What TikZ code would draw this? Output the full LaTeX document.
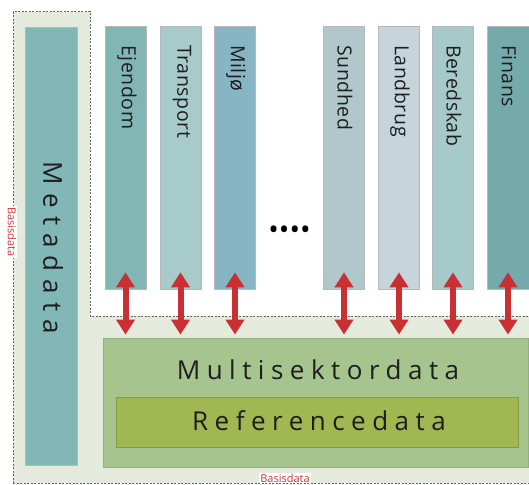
\documentclass[tikz,border=0pt]{standalone}
\usepackage{fontspec}
\setmainfont{Open Sans}
\newfontfamily\secfont[LetterSpace=3]{Open Sans}
\newfontfamily\widefont[LetterSpace=25]{Open Sans}
\newfontfamily\metafont[LetterSpace=31]{Open Sans}
\usetikzlibrary{arrows.meta}
\definecolor{basis}{HTML}{E4EBDD}
\definecolor{dotline}{HTML}{666666}
\definecolor{lblred}{HTML}{D0343A}
\definecolor{arrred}{HTML}{C93034}
\definecolor{cmeta}{HTML}{82B7B7}
\definecolor{cejendom}{HTML}{82B6B4}
\definecolor{ctransport}{HTML}{A7CBCB}
\definecolor{cmiljo}{HTML}{88B5C3}
\definecolor{csundhed}{HTML}{B0C8CB}
\definecolor{clandbrug}{HTML}{C5D5DB}
\definecolor{cberedskab}{HTML}{A6CACA}
\definecolor{cfinans}{HTML}{75AAAD}
\definecolor{cmulti}{HTML}{A6C48E}
\definecolor{cmultiedge}{HTML}{93B07C}
\definecolor{cref}{HTML}{A0B752}
\definecolor{crefedge}{HTML}{869C3E}
\definecolor{txt}{HTML}{1E1E1E}
\begin{document}
\begin{tikzpicture}[x=1pt,y=-1pt,
  bar/.style={draw=black!28, line width=0.6pt, inner sep=0pt, minimum width=41pt, minimum height=263pt},
  seclabel/.style={rotate=-90, anchor=west, inner sep=0pt, text=txt, font=\secfont\fontsize{19.5}{21}\selectfont},
  biarrow/.style={draw=arrred, line width=6pt, {Triangle[width=18pt,length=15pt]}-{Triangle[width=18pt,length=15pt]}},
  dotted border/.style={draw=dotline, line width=1pt, dash pattern=on 2pt off 1.5pt},
  basislabel/.style={text=lblred, fill=white, inner sep=1pt, font=\fontsize{11}{12}\selectfont}
]
\useasboundingbox (0,0) rectangle (529,484);
\clip (0,0) rectangle (529,484);
% Basisdata region
\fill[basis] (13,12) -- (90,12) -- (90,316) -- (535,316) -- (535,483) -- (13,483) -- cycle;
\draw[dotted border] (13,483) -- (13,12) -- (90,12) -- (90,316) -- (535,316);
\draw[dotted border] (13,483) -- (535,483);
\node[basislabel, rotate=-90] (bl1) at (12,232) {Basisdata};
\node[basislabel] (bl2) at (285,478) {Basisdata};
% Metadata
\node[bar, fill=cmeta, minimum width=52pt, minimum height=438pt] (meta) at (51,246) {};
\node[rotate=-90, inner sep=0pt, text=txt, font=\metafont\fontsize{26}{28}\selectfont] (metat) at (53,248) {Metadata};
% sector bars
\node[bar, fill=cejendom]   (ej) at (125.5,157.5) {};
\node[bar, fill=ctransport] (tr) at (180.5,157.5) {};
\node[bar, fill=cmiljo]     (mi) at (235,157.5) {};
\node[bar, fill=csundhed]   (su) at (344,157.5) {};
\node[bar, fill=clandbrug]  (la) at (399,157.5) {};
\node[bar, fill=cberedskab] (be) at (453,157.5) {};
\node[bar, fill=cfinans, minimum width=42pt] (fi) at (508,157.5) {};
\node[seclabel] (ejt) at (127,45) {Ejendom};
\node[seclabel] (trt) at (182,45) {Transport};
\node[seclabel] (mit) at (236,45) {Miljø};
\node[seclabel] (sut) at (345,45) {Sundhed};
\node[seclabel] (lat) at (400,45) {Landbrug};
\node[seclabel] (bet) at (454,45) {Beredskab};
\node[seclabel] (fit) at (509,45) {Finans};
% dots
\node[inner sep=0pt, text=black, font=\fontsize{28}{30}\selectfont] (dots) at (289.5,233) {••••};
% Multisektordata and Referencedata
\node[draw=cmultiedge, line width=0.8pt, fill=cmulti, minimum width=425pt, minimum height=129pt, inner sep=0pt] (ms) at (315.5,402.5) {};
\node[inner sep=0pt, text=txt, font=\widefont\fontsize{26}{28}\selectfont] (mst) at (318,370) {Multisektordata};
\node[draw=crefedge, line width=0.8pt, fill=cref, minimum width=402pt, minimum height=50pt, inner sep=0pt] (rf) at (317,422) {};
\node[inner sep=0pt, text=txt, font=\widefont\fontsize{26}{28}\selectfont] (rft) at (319,421) {Referencedata};
% arrows
\foreach \b in {ej,tr,mi,su,la,be,fi}{
  \draw[biarrow] ([yshift=17pt]\b.south) -- ([yshift=3pt]\b.south |- ms.north);
}
\end{tikzpicture}
\end{document}
